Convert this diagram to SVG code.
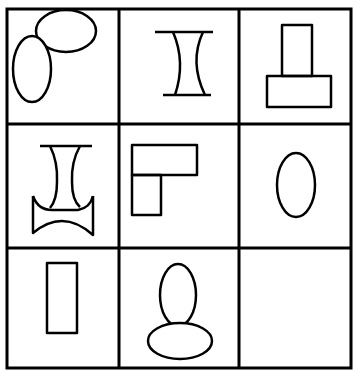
<svg xmlns="http://www.w3.org/2000/svg" width="355" height="370" viewBox="0 0 355 370">
<style>
.g{fill:none;stroke:#000;stroke-width:3}
.s{fill:none;stroke:#000;stroke-width:2.5;stroke-linejoin:round}
.w{fill:#fff;stroke:#000;stroke-width:2.5}
</style>
<rect width="355" height="370" fill="#fff"/>
<g id="grid">
<rect class="g" x="7" y="9" width="344" height="359"/>
<line class="g" x1="119" y1="9" x2="119" y2="368"/>
<line class="g" x1="239" y1="9" x2="239" y2="368"/>
<line class="g" x1="7" y1="124" x2="351" y2="124"/>
<line class="g" x1="7" y1="248" x2="351" y2="248"/>
</g>
<g id="cell1">
<ellipse class="w" cx="66" cy="31" rx="30" ry="21"/>
<ellipse class="w" cx="32" cy="69" rx="19" ry="33"/>
</g>
<g id="cell2">
<line class="s" x1="155" y1="32" x2="213" y2="32"/>
<line class="s" x1="163" y1="95" x2="211" y2="95"/>
<path class="s" d="M173,32 Q186,62 175,95"/>
<path class="s" d="M203,32 Q189,62 205,95"/>
</g>
<g id="cell3">
<rect class="s" x="282" y="25" width="30" height="51"/>
<rect class="s" x="267" y="76" width="64" height="31"/>
</g>
<g id="cell4">
<line class="s" x1="40" y1="146" x2="92" y2="146"/>
<path class="s" d="M50,146 Q58,162 57,182 Q57,200 50,208"/>
<path class="s" d="M80,146 Q71,162 72,182 Q72,200 80,207"/>
<path class="s" d="M33,196 Q38,210 52,210 L78,210 Q90,208 93,196"/>
<path class="s" d="M33,196 L33,233 Q63,208 93,235 L93,196"/>
</g>
<g id="cell5">
<rect class="s" x="132" y="145" width="65" height="30"/>
<rect class="s" x="132" y="175" width="29" height="40"/>
</g>
<g id="cell6">
<ellipse class="s" cx="296" cy="185" rx="19" ry="32"/>
</g>
<g id="cell7">
<rect class="s" x="47" y="263" width="30" height="70"/>
</g>
<g id="cell8">
<ellipse class="w" cx="178" cy="295" rx="18" ry="31"/>
<ellipse class="w" cx="180" cy="341" rx="32" ry="18"/>
</g>
</svg>
